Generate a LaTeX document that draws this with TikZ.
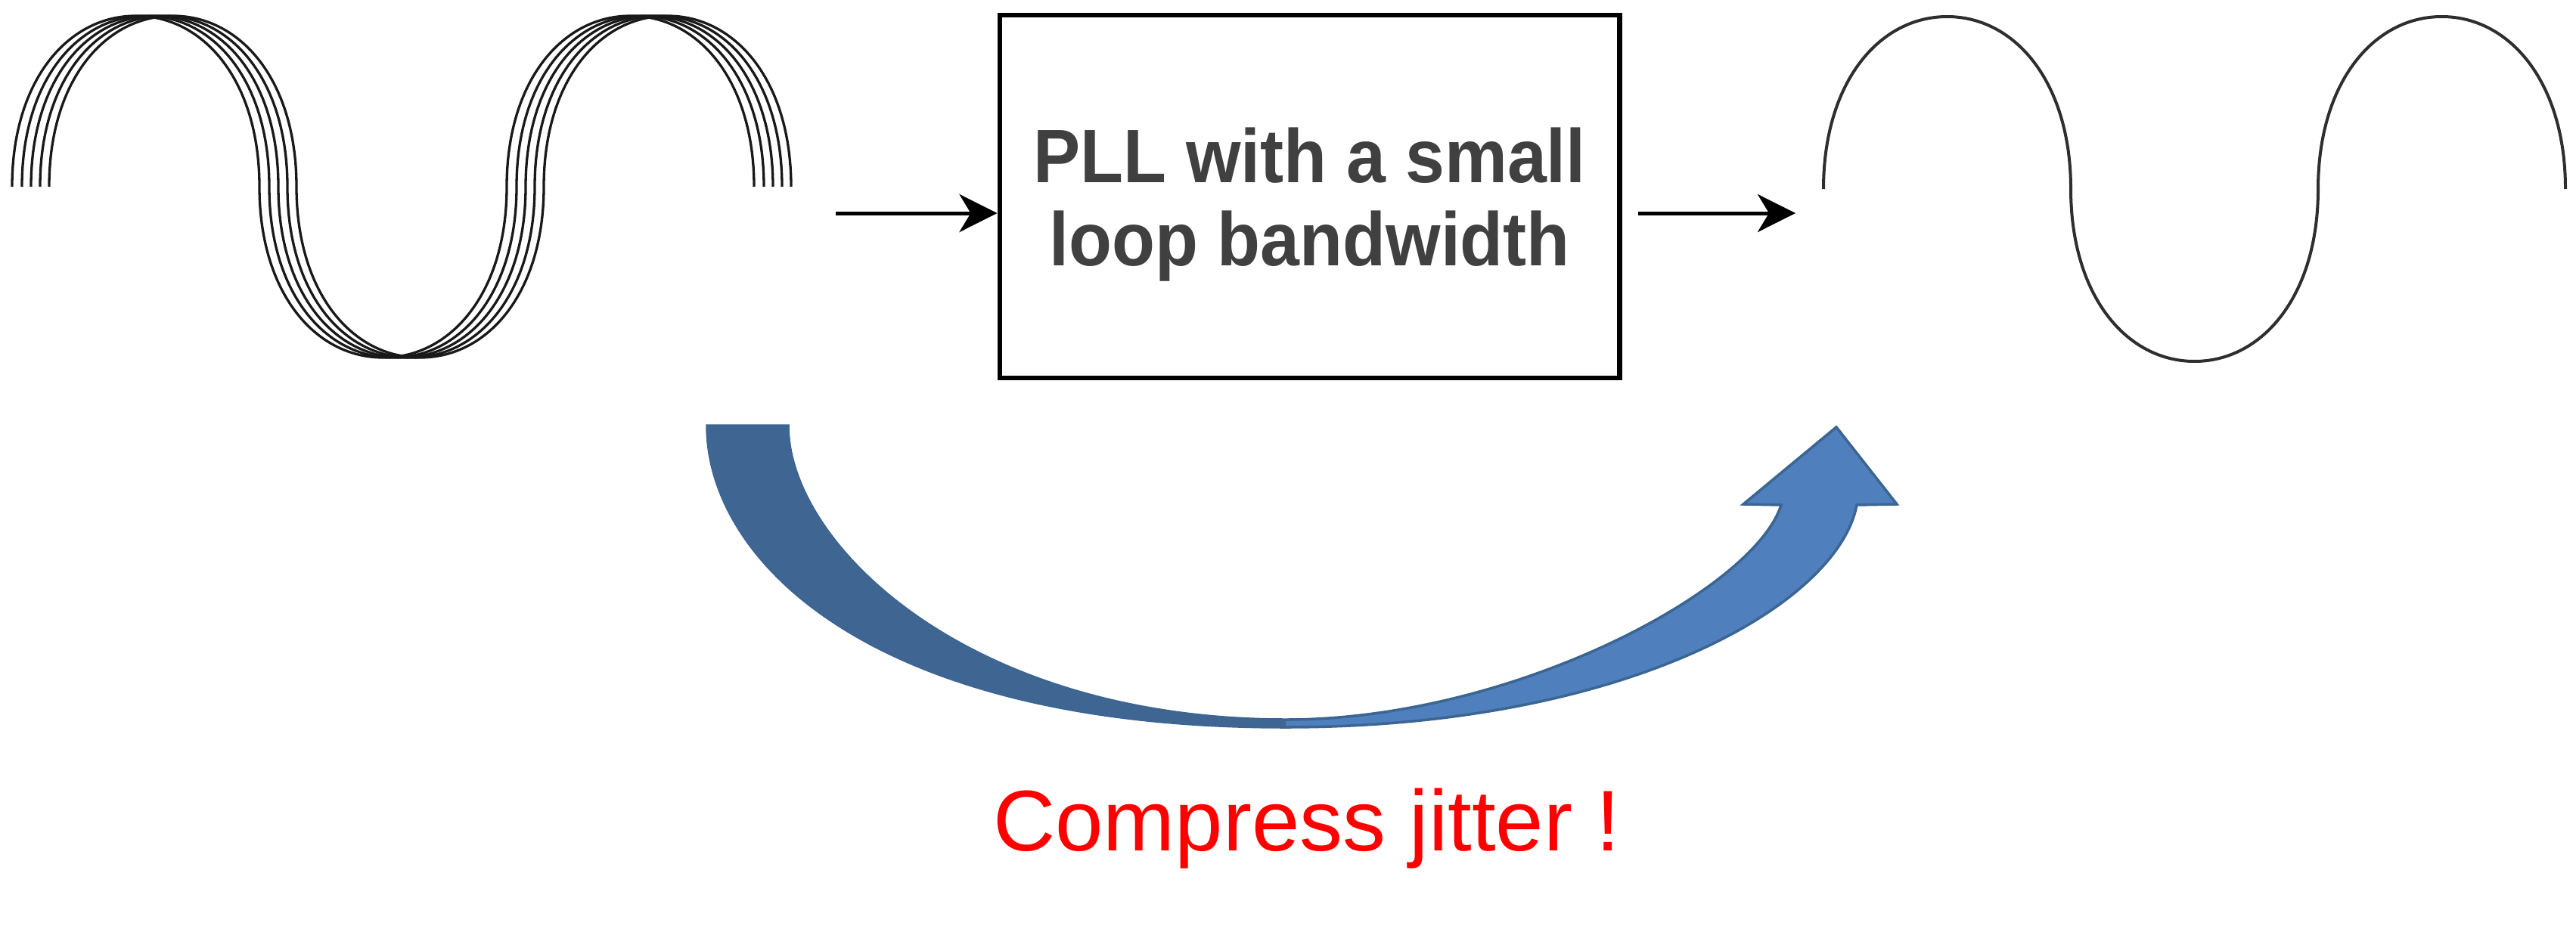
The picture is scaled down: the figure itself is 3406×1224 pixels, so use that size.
\documentclass[tikz,border=0pt]{standalone}
\usepackage{fontspec}
\setmainfont{Liberation Sans}
\newfontfamily\pllfont{Liberation Sans}[FakeStretch=0.93]
\usepackage{tikz}
\usetikzlibrary{arrows.meta}

\definecolor{boxgray}{HTML}{404040}
\definecolor{tailblue}{HTML}{3F6592}
\definecolor{headblue}{HTML}{4F7FBC}
\definecolor{rimblue}{HTML}{3B6592}

\tikzset{
  sig/.style={-{Stealth[length=0.5cm,width=0.5cm,inset=0.15cm]}, line width=0.05cm},
  pllbox/.style={draw, line width=0.065cm, minimum width=8.19cm, minimum height=4.8cm,
    align=center, text depth=0pt, text=boxgray, font=\pllfont\bfseries\fontsize{28.5}{31.3}\selectfont}
}

\begin{document}
\begin{tikzpicture}[x=0.01cm,y=-0.01cm]
            \useasboundingbox (0,0) rectangle (3406,1224);

            % jittery input: a few shifted copies
            \foreach \d in {0,13,25,37,49}
                \draw[line width=0.033cm, black!90]
                    ({16+\d},247) .. controls ({16+\d},107) and ({89.5+\d},21) .. ({179.5+\d},21)
                    .. controls ({269.5+\d},21) and ({343+\d},107) .. ({343+\d},247)
                    .. controls ({343+\d},387) and ({416.5+\d},473) .. ({506.5+\d},473)
                    .. controls ({596.5+\d},473) and ({670+\d},387) .. ({670+\d},247)
                    .. controls ({670+\d},107) and ({743.5+\d},21) .. ({833.5+\d},21)
                    .. controls ({923.5+\d},21) and ({997+\d},107) .. ({997+\d},247);

            % clean output
            \draw[line width=0.04cm, black!82]
                (2411,250) .. controls (2411,109) and (2484.5,22) .. (2574.5,22)
                .. controls (2664.5,22) and (2738,109) .. (2738,250)
                .. controls (2738,391) and (2811.5,478) .. (2901.5,478)
                .. controls (2991.5,478) and (3065,391) .. (3065,250)
                .. controls (3065,109) and (3138.5,22) .. (3228.5,22)
                .. controls (3318.5,22) and (3392,109) .. (3392,250);

            \node[pllbox] (pll) at (1731.5,260) {PLL with a small\\loop bandwidth};

            \coordinate (jitOut) at (1105,282);
            \coordinate (cleanIn) at (2374,282);
            \draw[sig] (jitOut) -- (pll.west |- jitOut);
            \draw[sig, shorten <=0.21cm] (pll.east |- cleanIn) -- (cleanIn);

            % big curved arrow
            \fill[headblue, draw=rimblue, line width=0.035cm]
                (935,563) .. controls (935,740) and (1150,962) .. (1700,962)
                .. controls (2150,962) and (2430,800) .. (2455,668)
                -- (2508,667) -- (2428,565) -- (2305,667) -- (2355,668)
                .. controls (2320,780) and (2000,952) .. (1700,952)
                .. controls (1280,952) and (1042,720) .. (1042,563) -- cycle;
            \fill[tailblue]
                (935,563) .. controls (935,740) and (1150,962) .. (1700,962)
                -- (1700,952) .. controls (1280,952) and (1042,720) .. (1042,563) -- cycle;

            \node[anchor=base, text=red, font=\fontsize{32.4}{38}\selectfont] (note) at (1728,1125) {Compress jitter !};

\end{tikzpicture}
\end{document}
